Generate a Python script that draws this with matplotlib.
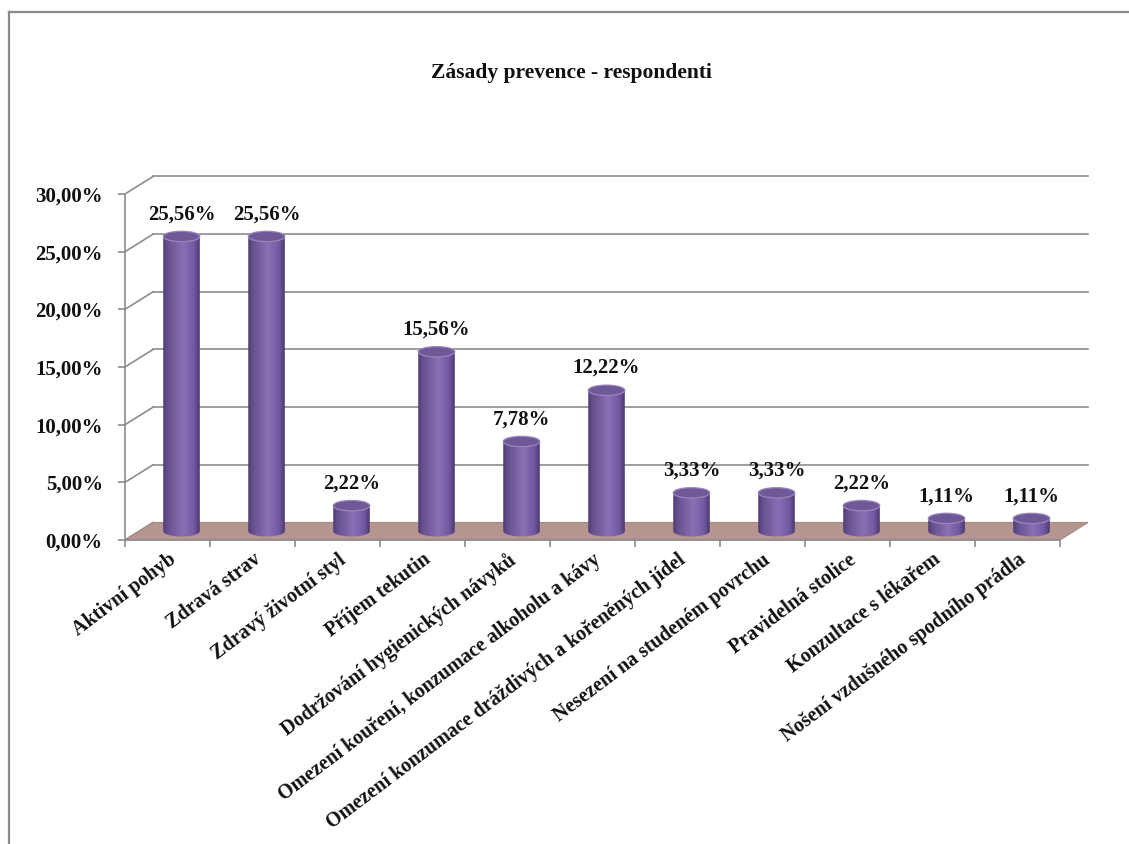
import matplotlib
matplotlib.use("Agg")
import matplotlib.pyplot as plt
import numpy as np
from matplotlib.patches import Polygon, Ellipse, PathPatch
from matplotlib.path import Path
from matplotlib.colors import LinearSegmentedColormap
from matplotlib.lines import Line2D
from matplotlib.ticker import FuncFormatter

# Data
categories = [
    "Aktivní pohyb",
    "Zdravá strav",
    "Zdravý životní styl",
    "Příjem tekutin",
    "Dodržování hygienických návyků",
    "Omezení kouření, konzumace alkoholu a kávy",
    "Omezení konzumace dráždivých a kořeněných jídel",
    "Nesezení na studeném povrchu",
    "Pravidelná stolice",
    "Konzultace s lékařem",
    "Nošení vzdušného spodního prádla",
]
values = [25.56, 25.56, 2.22, 15.56, 7.78, 12.22, 3.33, 3.33, 2.22, 1.11, 1.11]
y_ticks = [0, 5, 10, 15, 20, 25, 30]
title = "Zásady prevence - respondenti"

# Styling
SERIF = ["Liberation Serif", "DejaVu Serif"]
TEXT = "#111111"
GRID = "#8c8c8c"
FLOOR = "#b5958f"
DX, DY = 0.33, 1.52          # depth offset of the 3D box (data units)
BAR_W = 0.43                 # cylinder width (category units)
CAP_H = 0.9                  # height of the ellipse caps (value units)

W, H, DPI = 1129, 844, 100
fig = plt.figure(figsize=(W / DPI, H / DPI), dpi=DPI)
fig.patch.set_facecolor("white")

# Outer frame (left and top edges visible)
fig.add_artist(Line2D([9 / W, 9 / W], [0, 1 - 12 / H], transform=fig.transFigure,
                      color="#8a8a8a", lw=1.6))
fig.add_artist(Line2D([9 / W, 1], [1 - 12 / H, 1 - 12 / H], transform=fig.transFigure,
                      color="#8a8a8a", lw=1.6))

# Front plane of the plot box
left, right, top, bottom = 125, 1060, 194, 540
ax = fig.add_axes([left / W, 1 - bottom / H, (right - left) / W, (bottom - top) / H])
ax.set_facecolor("none")
n = len(categories)
ymax = y_ticks[-1]

# Back wall gridlines and side-wall diagonals
for v in y_ticks:
    if v > 0:
        ax.plot([DX, n + DX], [v + DY, v + DY], color=GRID, lw=1.2, clip_on=False, zorder=1)
    ax.plot([0, DX], [v, v + DY], color=GRID, lw=1.2, clip_on=False, zorder=1)

# Floor
floor = Polygon([(0, 0), (n, 0), (n + DX, DY), (DX, DY)], closed=True,
                facecolor=FLOOR, edgecolor="#a88a84", lw=0.8, clip_on=False, zorder=2)
ax.add_patch(floor)

# Cylinders
cyl_cmap = LinearSegmentedColormap.from_list(
    "cyl", [(0.0, "#4d3a70"), (0.12, "#65508e"), (0.55, "#8a70b5"),
            (0.85, "#7058a0"), (1.0, "#4a386c")])
grad = np.linspace(0, 1, 256).reshape(1, -1)

for i, v in enumerate(values):
    cx = i + 0.5 + DX / 2
    base = DY / 2
    topv = v + DY / 2
    x0, x1 = cx - BAR_W / 2, cx + BAR_W / 2
    t = np.linspace(np.pi, 2 * np.pi, 40)
    arc = np.column_stack([cx + BAR_W / 2 * np.cos(t), base + CAP_H / 2 * np.sin(t)])
    verts = np.vstack([[(x0, topv)], arc, [(x1, topv)], [(x0, topv)]])
    codes = [Path.MOVETO] + [Path.LINETO] * (len(verts) - 2) + [Path.CLOSEPOLY]
    body = PathPatch(Path(verts, codes), facecolor="none", edgecolor="none", zorder=3)
    ax.add_patch(body)
    im = ax.imshow(grad, cmap=cyl_cmap, extent=(x0, x1, base - CAP_H, topv),
                   aspect="auto", origin="lower", zorder=3, interpolation="bilinear")
    im.set_clip_path(body)
    cap = Ellipse((cx, topv), BAR_W, CAP_H, facecolor="#6f5898",
                  edgecolor="#9a86bf", lw=0.9, zorder=4)
    ax.add_patch(cap)
    ax.annotate(f"{v:.2f}%".replace(".", ","), xy=(cx, topv), xytext=(0, 16),
                textcoords="offset points", ha="center", va="center",
                fontsize=15, fontweight="bold", family=SERIF, color=TEXT, zorder=5)

ax.set_xlim(0, n)
ax.set_ylim(0, ymax)

# Axes: front spines, ticks and labels
for s in ("top", "right"):
    ax.spines[s].set_visible(False)
for s in ("left", "bottom"):
    ax.spines[s].set_color(GRID)
    ax.spines[s].set_linewidth(1.2)
    ax.spines[s].set_zorder(2.5)

ax.set_yticks(y_ticks)
ax.yaxis.set_major_formatter(FuncFormatter(lambda y, _: f"{y:.2f}%".replace(".", ",")))
ax.tick_params(axis="y", direction="out", length=5, width=1.2, color=GRID, pad=11,
               labelsize=15, labelcolor=TEXT)

ax.set_xticks(np.arange(n + 1))
ax.set_xticklabels([])
ax.set_xticks(np.arange(n) + 0.5, minor=True)
ax.set_xticklabels(categories, minor=True, rotation=37, ha="right", va="top",
                   rotation_mode="anchor")
ax.tick_params(axis="x", which="major", direction="out", length=5, width=1.2, color=GRID)
ax.tick_params(axis="x", which="minor", length=0, pad=7, labelsize=14.5, labelcolor=TEXT)
for lbl in ax.get_xticklabels(minor=True) + ax.get_yticklabels():
    lbl.set_family(SERIF)
    lbl.set_fontweight("bold")

fig.text(571 / W, 1 - 73 / H, title, ha="center", va="center", fontsize=15.5,
         fontweight="bold", family=SERIF, color=TEXT)

fig.savefig("out.png", dpi=DPI)
